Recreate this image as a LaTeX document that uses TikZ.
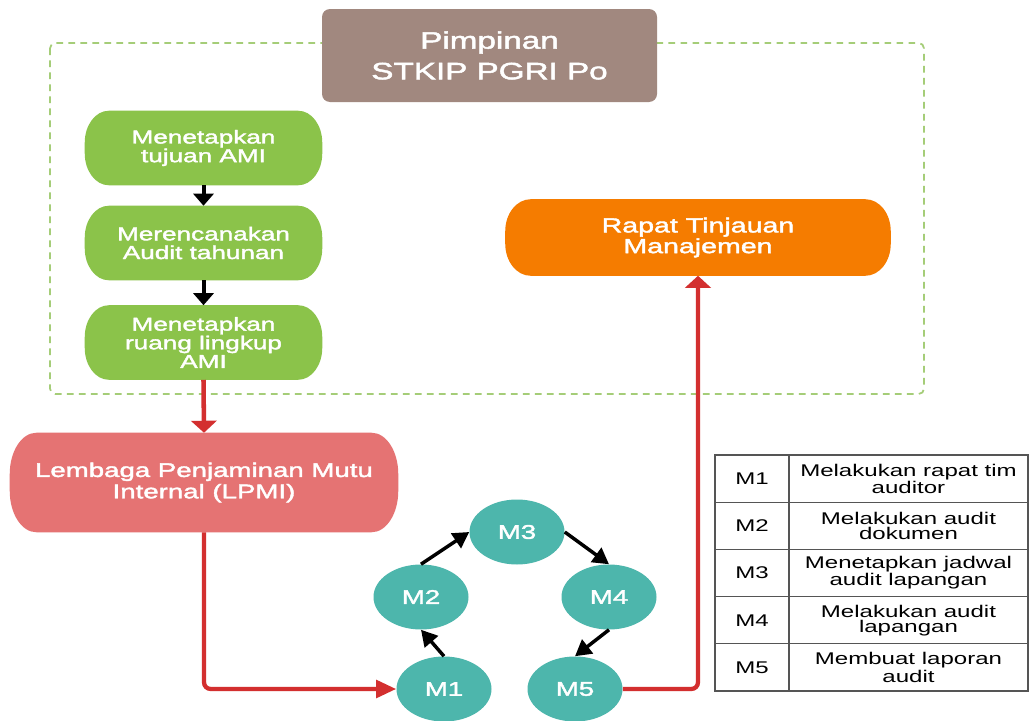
\documentclass[tikz,border=0pt]{standalone}
\usepackage{fontspec}
\setmainfont{Liberation Sans}[FakeStretch=1.42]
\newfontfamily\boxfont{Liberation Sans}[FakeStretch=1.4,FakeBold=2]
\usetikzlibrary{arrows.meta,shapes.geometric,calc,backgrounds}
\definecolor{cgreen}{HTML}{8BC34A}
\definecolor{cdash}{HTML}{A5CD78}
\definecolor{cbrown}{HTML}{A1887F}
\definecolor{corange}{HTML}{F57C00}
\definecolor{cpink}{HTML}{E57373}
\definecolor{cteal}{HTML}{4DB6AC}
\definecolor{cred}{HTML}{D32F2F}
\definecolor{cgrid}{HTML}{555555}
\newcommand\softfill[4]{%
  \begin{scope}[on background layer]
  \fill[#2] let \p1=(#1.north west), \p2=(#1.south east) in
    (\x1+#3,\y1) -- (\x2-#3,\y1) arc[start angle=90,end angle=0,x radius=#3,y radius=#4]
    -- (\x2,\y2+#4) arc[start angle=0,end angle=-90,x radius=#3,y radius=#4]
    -- (\x1+#3,\y2) arc[start angle=-90,end angle=-180,x radius=#3,y radius=#4]
    -- (\x1,\y1-#4) arc[start angle=180,end angle=90,x radius=#3,y radius=#4] -- cycle;
  \end{scope}}
\begin{document}
\begin{tikzpicture}[x=0.75pt,y=-0.75pt,
  greenbox/.style={rectangle, text=white,
    minimum width=177.75pt, minimum height=55.5pt, inner sep=0pt, align=center,
    font=\boxfont\fontsize{14}{14}\selectfont},
  brownbox/.style={rectangle, rounded corners=6pt, fill=cbrown, text=white,
    minimum width=251.25pt, minimum height=69.75pt, inner sep=0pt, align=center,
    font=\boxfont\fontsize{17.8}{23}\selectfont},
  orangebox/.style={rectangle, text=white,
    minimum width=288.75pt, minimum height=57pt, inner sep=0pt, align=center,
    font=\boxfont\fontsize{15.3}{15.5}\selectfont},
  pinkbox/.style={rectangle, text=white,
    minimum width=291pt, minimum height=74.25pt, inner sep=0pt, align=center,
    font=\boxfont\fontsize{14.8}{16}\selectfont},
  mnode/.style={ellipse, fill=cteal, text=white, minimum width=71.25pt, minimum height=48.75pt,
    inner sep=0pt, font=\boxfont\fontsize{14.8}{15}\selectfont},
  cellA/.style={rectangle, draw=cgrid, line width=0.8pt, minimum width=55.5pt, minimum height=35.4pt,
    inner sep=0pt, font=\fontsize{12.7}{12}\selectfont},
  cellB/.style={rectangle, draw=cgrid, line width=0.8pt, minimum width=179.25pt, minimum height=35.4pt,
    inner sep=0pt, align=center, font=\fontsize{12.7}{11.2}\selectfont},
  redV/.style={draw=cred, line width=3.4pt, -{Triangle[length=9pt,width=19pt]}},
  redH/.style={draw=cred, line width=3.2pt, rounded corners=5pt, -{Triangle[length=15pt,width=13pt]}},
  blackV/.style={draw=black, line width=3pt, -{Triangle[length=9pt,width=15pt]}},
  blackD/.style={draw=black, line width=2.6pt, -{Triangle[length=12pt,width=13pt]}},
  dashbox/.style={draw=cdash, line width=1.3pt, dash pattern=on 5pt off 4pt, rounded corners=4pt}
]
\useasboundingbox (0,0) rectangle (1029,721);
\begin{scope}[on background layer]
  \fill[white] (0,0) rectangle (1029,721);
\end{scope}

% dashed frame
\coordinate (f1) at (50,43);
\coordinate (f2) at (924,394);
\draw[dashbox] (f1) rectangle (f2);

% boxes
\node[brownbox] (pim) at (489.5,55.5) {Pimpinan\\STKIP PGRI Po};
\node[greenbox] (g1) at (203.5,148) {Menetapkan\\tujuan AMI};
\node[greenbox] (g2) at (203.5,243) {Merencanakan\\Audit tahunan};
\node[greenbox] (g3) at (203.5,342.5) {Menetapkan\\ruang lingkup\\AMI};
\node[orangebox] (rtm) at (698,237.5) {Rapat Tinjauan\\Manajemen};
\node[pinkbox] (lpmi) at (204,482.5) {Lembaga Penjaminan Mutu\\Internal (LPMI)};
\softfill{g1}{cgreen}{18pt}{24pt}
\softfill{g2}{cgreen}{18pt}{24pt}
\softfill{g3}{cgreen}{18pt}{24pt}
\softfill{rtm}{corange}{19pt}{24pt}
\softfill{lpmi}{cpink}{20pt}{31pt}

% cycle
\node[mnode] (m1) at (444,689) {M1};
\node[mnode] (m2) at (421,597) {M2};
\node[mnode] (m3) at (517,532) {M3};
\node[mnode] (m4) at (609,597) {M4};
\node[mnode] (m5) at (575,689) {M5};

% connectors
\draw[blackV] (g1.south) -- (g2.north);
\draw[blackV] (g2.south) -- (g3.north);
\draw[redV] (g3.south) -- (lpmi.north);
\draw[redH] (lpmi.south) |- (m1.west);
\draw[blackD] (m1.north) -- (m2.south);
\draw[blackD] (m2.north) -- (m3.west);
\draw[blackD] (m3.east) -- (m4.north);
\draw[blackD] (m4.south) -- (m5.north);
\draw[draw=cred, line width=3.2pt, rounded corners=5pt, -{Triangle[length=9pt,width=19pt]}] (m5.east) -| (rtm.south);

% table
\node[cellA] (a1) at (752,478.6) {M1};
\node[cellB] (b1) at (908.5,478.6) {Melakukan rapat tim\\auditor};
\node[cellA] (a2) at (752,525.8) {M2};
\node[cellB] (b2) at (908.5,525.8) {Melakukan audit\\dokumen};
\node[cellA] (a3) at (752,573) {M3};
\node[cellB] (b3) at (908.5,573) {Menetapkan jadwal\\audit lapangan};
\node[cellA] (a4) at (752,620.2) {M4};
\node[cellB] (b4) at (908.5,620.2) {Melakukan audit\\lapangan};
\node[cellA] (a5) at (752,667.4) {M5};
\node[cellB] (b5) at (908.5,667.4) {Membuat laporan\\audit};
\end{tikzpicture}
\end{document}
